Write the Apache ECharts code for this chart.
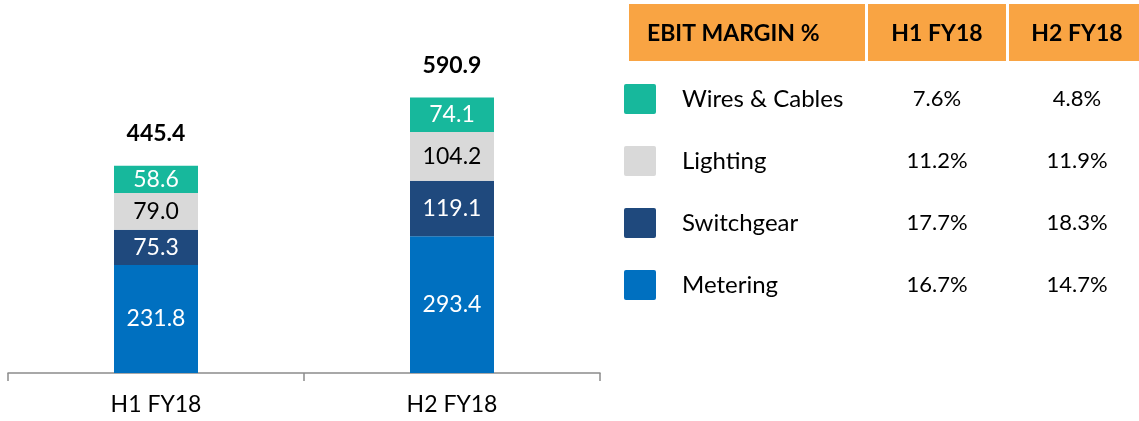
<!DOCTYPE html>
<html>
<head>
<meta charset="utf-8">
<script src="https://cdn.jsdelivr.net/npm/echarts@6/dist/echarts.min.js"></script>
<style>
html,body{margin:0;padding:0;background:#fff;}
#chart{width:1139px;height:421px;}
</style>
</head>
<body>
<div id="chart"></div>
<script>
// ---- data ----
const categories = ['H1 FY18', 'H2 FY18'];
const metering = [231.8, 293.4];
const switchgear = [75.3, 119.1];
const lighting = [79.0, 104.2];
const wires = [58.6, 74.1];
const totals = [445.4, 590.9];

const tableHeader = ['EBIT MARGIN %', 'H1 FY18', 'H2 FY18'];
const tableRows = ['Wires & Cables', 'Lighting', 'Switchgear', 'Metering'];
const marginH1 = [7.6, 11.2, 17.7, 16.7];
const marginH2 = [4.8, 11.9, 18.3, 14.7];

// ---- styles ----
const FONT = 'Lato';
const colors = {
  'Metering': '#0070C0',
  'Switchgear': '#1F497D',
  'Lighting': '#D9D9D9',
  'Wires & Cables': '#17B89C'
};
const labelColors = {
  'Metering': '#fff',
  'Switchgear': '#fff',
  'Lighting': '#000',
  'Wires & Cables': '#fff'
};
const ORANGE = '#F9A443';
const LEGEND_ICON = 'path://M2,0 H30 Q32,0 32,2 V28 Q32,30 30,30 H2 Q0,30 0,28 V2 Q0,0 2,0 Z';

function barSeries(name, data) {
  return {
    name: name,
    type: 'bar',
    stack: 'total',
    xAxisIndex: 0, yAxisIndex: 0,
    barWidth: 84,
    data: data,
    itemStyle: { color: colors[name] },
    label: {
      show: true, position: 'inside',
      color: labelColors[name], fontFamily: FONT, fontSize: 23,
      formatter: p => p.value.toFixed(1)
    }
  };
}

const tableData = [];
tableRows.forEach((r, i) => {
  tableData.push([categories[0], r, marginH1[i]]);
  tableData.push([categories[1], r, marginH2[i]]);
});

const headerCells = [
  { x: 629, w: 236 },
  { x: 868, w: 138 },
  { x: 1009, w: 136 }
];
const graphics = [];
headerCells.forEach((c, i) => {
  graphics.push({
    type: 'rect', shape: { x: c.x, y: 4, width: c.w, height: 57 },
    style: { fill: ORANGE }, silent: true
  });
  graphics.push({
    type: 'text',
    x: i === 0 ? 647 : (i === 1 ? 937 : 1077),
    y: 34,
    style: {
      text: tableHeader[i], fill: '#000',
      font: 'bold 23px ' + FONT,
      textAlign: i === 0 ? 'left' : 'center', textVerticalAlign: 'middle'
    }, silent: true
  });
});

const chart = echarts.init(document.getElementById('chart'));
chart.setOption({
  animation: false,
  textStyle: { fontFamily: FONT },
  grid: [
    { left: 8, width: 592, top: 0, bottom: 48 },
    { left: 937, width: 140, top: 68, height: 248 }
  ],
  xAxis: [
    {
      gridIndex: 0, type: 'category', data: categories,
      axisLine: { lineStyle: { color: '#8C8C8C', width: 1.5 } },
      axisTick: { show: true, length: 8, lineStyle: { color: '#8C8C8C', width: 1.5 } },
      axisLabel: { color: '#000', fontFamily: FONT, fontSize: 23, margin: 20 }
    },
    { gridIndex: 1, type: 'category', data: categories, boundaryGap: false, show: false }
  ],
  yAxis: [
    { gridIndex: 0, type: 'value', min: 0, max: 800, show: false, splitLine: { show: false } },
    { gridIndex: 1, type: 'category', data: tableRows, inverse: true, show: false }
  ],
  legend: {
    orient: 'vertical', left: 624, top: 84, padding: 0,
    itemWidth: 32, itemHeight: 30, itemGap: 32, icon: LEGEND_ICON,
    data: ['Wires & Cables', 'Lighting', 'Switchgear', 'Metering'],
    textStyle: { color: '#000', fontFamily: FONT, fontSize: 24, padding: [0, 0, 0, 21] }
  },
  graphic: graphics,
  series: [
    barSeries('Metering', metering),
    barSeries('Switchgear', switchgear),
    barSeries('Lighting', lighting),
    barSeries('Wires & Cables', wires),
    {
      name: 'Total', type: 'scatter', xAxisIndex: 0, yAxisIndex: 0,
      symbolSize: 1, itemStyle: { color: 'rgba(0,0,0,0)', opacity: 1 },
      data: totals,
      label: {
        show: true, position: 'top', distance: 20,
        formatter: p => '{t|' + p.value.toFixed(1) + '}',
        rich: { t: { color: '#000', fontFamily: FONT, fontSize: 23, fontWeight: 'bold' } }
      }
    },
    {
      name: 'EBIT Margin', type: 'scatter', xAxisIndex: 1, yAxisIndex: 1,
      symbolSize: 1, itemStyle: { color: 'rgba(0,0,0,0)', opacity: 1 },
      data: tableData,
      label: {
        show: true, position: 'inside',
        color: '#000', fontFamily: FONT, fontSize: 22,
        formatter: p => p.value[2].toFixed(1) + '%'
      }
    }
  ]
});
</script>
</body>
</html>
